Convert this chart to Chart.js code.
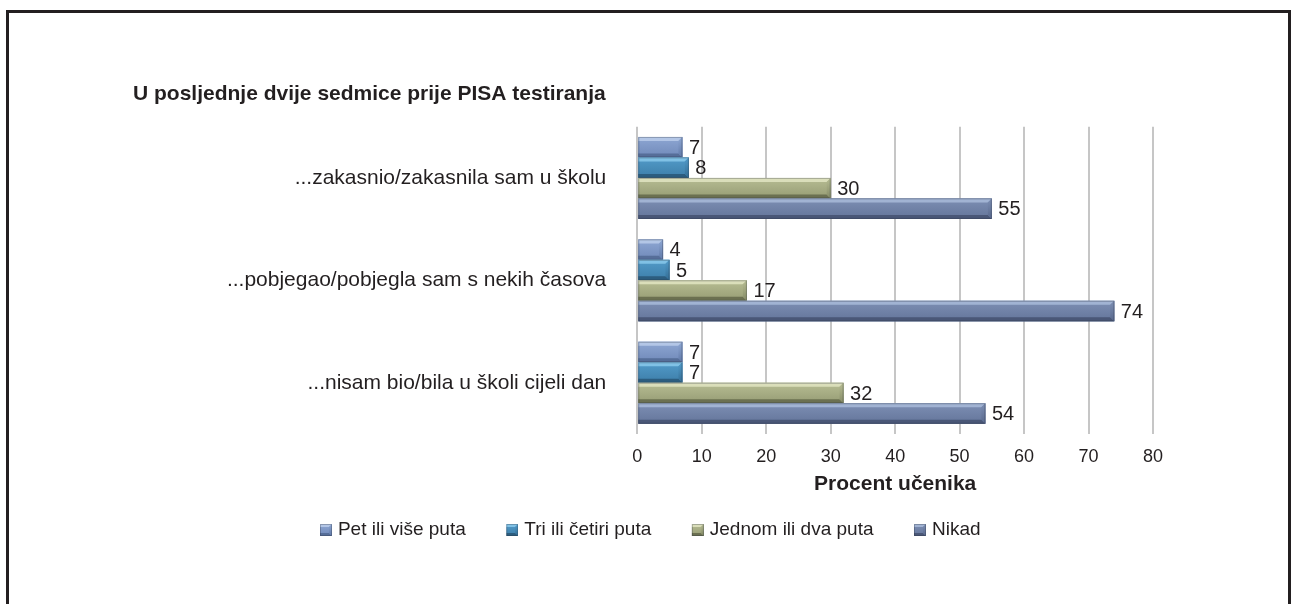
<!DOCTYPE html>
<html>
<head>
<meta charset="utf-8">
<script src="https://cdn.jsdelivr.net/npm/chart.js@4.4.1/dist/chart.umd.min.js"></script>
<style>
  html, body { margin: 0; padding: 0; background: #fff; overflow: hidden; }
  #wrap { position: absolute; left: 0; top: 0; width: 1291px; height: 604px; }
  #frame {
    position: absolute; left: 6px; top: 10px; width: 1285px; height: 700px;
    box-sizing: border-box; border: 3px solid #231f20; border-bottom: none;
    pointer-events: none;
  }
</style>
</head>
<body>
<div id="wrap"><canvas id="chart"></canvas></div>
<div id="frame"></div>
<script>
// ---- data ----
const categories = [
  '...zakasnio/zakasnila sam u školu',
  '...pobjegao/pobjegla sam s nekih časova',
  '...nisam bio/bila u školi cijeli dan'
];
const seriesNames = ['Pet ili više puta', 'Tri ili četiri puta', 'Jednom ili dva puta', 'Nikad'];
const petIliVisePuta   = [7, 4, 7];
const triIliCetiriPuta = [8, 5, 7];
const jednomIliDvaPuta = [30, 17, 32];
const nikad            = [55, 74, 54];
const xTickValues = [0, 10, 20, 30, 40, 50, 60, 70, 80];
const chartTitle = 'U posljednje dvije sedmice prije PISA testiranja';
const xAxisTitle = 'Procent učenika';

// ---- styling ----
const TEXT = '#231f20';
const GRID = '#c6c6c6';
Chart.defaults.font.family = "'Liberation Sans', Arial, Helvetica, sans-serif";
Chart.defaults.color = TEXT;

// bevel shades per series: highlight edge, face top, face bottom, shadow edge, end cap
const shades = [
  { hi: '#b3c6e6', f1: '#8ea7d3', f2: '#7089b9', lo: '#566e99', cap: '#6079a8' },
  { hi: '#80c1e5', f1: '#529bc9', f2: '#3d7ea9', lo: '#2c5d7f', cap: '#336d95' },
  { hi: '#dade ba'.replace(' ', ''), f1: '#b7bd93', f2: '#969c74', lo: '#6b7051', cap: '#858b66' },
  { hi: '#a1b3d3', f1: '#7d8fb4', f2: '#64759a', lo: '#4a5777', cap: '#58688c' }
];

function bevelRect(ctx, left, right, top, bottom, s, b) {
  const g = ctx.createLinearGradient(0, top, 0, bottom);
  g.addColorStop(0, s.f1);
  g.addColorStop(1, s.f2);
  ctx.fillStyle = g;
  ctx.fillRect(left, top, right - left, bottom - top);
  // top highlight
  ctx.fillStyle = s.hi;
  ctx.beginPath();
  ctx.moveTo(left, top); ctx.lineTo(right, top);
  ctx.lineTo(right - b, top + b); ctx.lineTo(left, top + b);
  ctx.closePath(); ctx.fill();
  // bottom shadow
  ctx.fillStyle = s.lo;
  ctx.beginPath();
  ctx.moveTo(left, bottom); ctx.lineTo(right, bottom);
  ctx.lineTo(right - b, bottom - b); ctx.lineTo(left, bottom - b);
  ctx.closePath(); ctx.fill();
  // end cap
  const cg = ctx.createLinearGradient(0, top, 0, bottom);
  cg.addColorStop(0, s.f1);
  cg.addColorStop(1, s.cap);
  ctx.fillStyle = cg;
  ctx.beginPath();
  ctx.moveTo(right, top); ctx.lineTo(right, bottom);
  ctx.lineTo(right - b, bottom - b); ctx.lineTo(right - b, top + b);
  ctx.closePath(); ctx.fill();
  ctx.strokeStyle = 'rgba(40,45,60,0.3)';
  ctx.lineWidth = 1;
  ctx.strokeRect(left + 0.5, top + 0.5, right - left - 1, bottom - top - 1);
}

// small bevelled legend swatches (square sits at the right end of the image)
function makeSwatch(s) {
  const c = document.createElement('canvas');
  c.width = 46; c.height = 12;
  const g = c.getContext('2d');
  bevelRect(g, 34, 46, 0, 12, s, 3);
  return c;
}
const swatches = shades.map(makeSwatch);

// bars drawn with a bevel on top of the library's bar elements, then value labels
const bevelBars = {
  id: 'bevelBars',
  afterDatasetsDraw(chart) {
    const ctx = chart.ctx;
    ctx.save();
    chart.data.datasets.forEach((ds, di) => {
      const meta = chart.getDatasetMeta(di);
      if (meta.hidden) return;
      meta.data.forEach((el) => {
        const p = el.getProps(['x', 'y', 'base', 'height'], true);
        const left = Math.min(p.x, p.base), right = Math.max(p.x, p.base);
        const top = p.y - p.height / 2, bottom = p.y + p.height / 2;
        const b = Math.min(4, (right - left) / 2);
        bevelRect(ctx, left, right, top, bottom, shades[di], b);
      });
    });
    ctx.font = "20px 'Liberation Sans', Arial, sans-serif";
    ctx.fillStyle = TEXT;
    ctx.textAlign = 'left';
    ctx.textBaseline = 'middle';
    chart.data.datasets.forEach((ds, di) => {
      const meta = chart.getDatasetMeta(di);
      if (meta.hidden) return;
      meta.data.forEach((el, i) => {
        const p = el.getProps(['x', 'y'], true);
        ctx.fillText(String(ds.data[i]), p.x + 6.5, p.y + 1);
      });
    });
    ctx.restore();
  }
};

// nudge the legend row left of the centred position
const legendShift = {
  id: 'legendShift',
  afterLayout(chart) {
    const lg = chart.legend;
    if (lg) { lg.left -= 8; lg.right -= 8; }
  }
};

const seriesValues = [petIliVisePuta, triIliCetiriPuta, jednomIliDvaPuta, nikad];

new Chart(document.getElementById('chart'), {
  type: 'bar',
  data: {
    labels: categories,
    datasets: seriesNames.map((name, i) => ({
      label: name,
      data: seriesValues[i],
      backgroundColor: shades[i].f2,
      borderWidth: 0,
      categoryPercentage: 0.8,
      barPercentage: 1.0
    }))
  },
  options: {
    indexAxis: 'y',
    responsive: true,
    maintainAspectRatio: false,
    animation: false,
    layout: { padding: { top: 0, left: 133, right: 138, bottom: 54.5 } },
    scales: {
      x: {
        min: 0, max: 80,
        afterBuildTicks(scale) { scale.ticks = xTickValues.map(v => ({ value: v })); },
        grid: { color: GRID, lineWidth: 2, drawTicks: false },
        border: { display: false },
        ticks: { font: { size: 18 }, color: TEXT, padding: 12 },
        title: {
          display: true, text: xAxisTitle, color: TEXT,
          font: { size: 21, weight: 'bold' }, padding: { top: -8, bottom: 13.7 }
        }
      },
      y: {
        grid: { display: false },
        border: { display: false },
        ticks: { font: { size: 21 }, color: TEXT, padding: 23 },
        afterFit(scale) { scale.width = 504.3; }
      }
    },
    plugins: {
      title: {
        display: true, text: chartTitle, align: 'start', color: TEXT,
        font: { size: 21, weight: 'bold' }, padding: { top: 82, bottom: 19.5 }
      },
      legend: {
        position: 'bottom',
        labels: {
          usePointStyle: true,
          pointStyleWidth: 39,
          padding: 10,
          color: TEXT,
          font: { size: 19 },
          generateLabels(chart) {
            const items = Chart.defaults.plugins.legend.labels.generateLabels(chart);
            items.forEach(it => { it.pointStyle = swatches[it.datasetIndex]; it.fontColor = TEXT; });
            return items;
          }
        }
      },
      tooltip: { enabled: false }
    }
  },
  plugins: [bevelBars, legendShift]
});
</script>
</body>
</html>
